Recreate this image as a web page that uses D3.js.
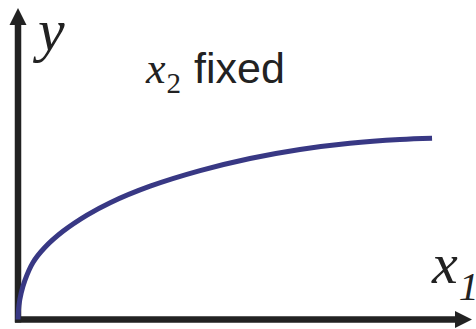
<!DOCTYPE html>
<html>
<head>
<meta charset="utf-8">
<script src="https://cdn.jsdelivr.net/npm/d3@7"></script>
<style>
  html, body { margin: 0; padding: 0; background: #fff; }
  svg { display: block; }
</style>
</head>
<body>
<svg id="container" width="476" height="329"></svg>
<script>
// curve (x1 on the horizontal, y on the vertical, arbitrary units)
const x1Values = [0, 0.02, 0.07, 0.15, 0.33, 0.59, 0.99, 1.52, 2.03, 2.91, 4.01, 5.11, 6.21, 7.31, 8.41, 9.12];
const yValues  = [0, 0.45, 0.85, 1.25, 1.83, 2.31, 2.83, 3.35, 3.75, 4.28, 4.78, 5.17, 5.46, 5.66, 5.78, 5.82];

const xDomain = [0, 10];
const yDomain = [0, 10];

const svg = d3.select('#container');

const xScale = d3.scaleLinear().domain(xDomain).range([18, 472]);
const yScale = d3.scaleLinear().domain(yDomain).range([319.5, 8]);

const axisColor = '#222';

// axes with arrow heads
const x0 = xScale(0), y0 = yScale(0);
const xEnd = xScale(xDomain[1]), yEnd = yScale(yDomain[1]);

svg.append('line')
    .attr('x1', x0).attr('y1', y0 + 3)
    .attr('x2', x0).attr('y2', yEnd + 14)
    .attr('stroke', axisColor).attr('stroke-width', 6.5);

svg.append('line')
    .attr('x1', x0 - 3).attr('y1', y0)
    .attr('x2', xEnd - 14).attr('y2', y0)
    .attr('stroke', axisColor).attr('stroke-width', 6.5);

svg.append('path')
    .attr('d', `M${x0},${yEnd} L${x0 + 8.5},${yEnd + 17} L${x0 - 8.5},${yEnd + 17} Z`)
    .attr('fill', axisColor);

svg.append('path')
    .attr('d', `M${xEnd},${y0} L${xEnd - 17},${y0 + 8.5} L${xEnd - 17},${y0 - 8.5} Z`)
    .attr('fill', axisColor);

// the curve
const data = x1Values.map((v, i) => [v, yValues[i]]);
const line = d3.line()
    .x(d => xScale(d[0]))
    .y(d => yScale(d[1]))
    .curve(d3.curveCatmullRom.alpha(0.5));

svg.append('path')
    .datum(data)
    .attr('d', line)
    .attr('fill', 'none')
    .attr('stroke', '#383884')
    .attr('stroke-width', 5);

// labels
const serif = '"Liberation Serif", "DejaVu Serif", serif';
const sans = '"Liberation Sans", Arial, sans-serif';

svg.append('text')
    .attr('x', 38).attr('y', 50)
    .attr('font-family', serif).attr('font-style', 'italic')
    .attr('font-size', 60).attr('fill', '#222')
    .text('y');

const t2 = svg.append('text')
    .attr('x', 146).attr('y', 83)
    .attr('fill', '#222');
t2.append('tspan').attr('font-family', serif).attr('font-style', 'italic').attr('font-size', 44).text('x');
t2.append('tspan').attr('font-family', serif).attr('font-size', 29).attr('dy', 10).attr('dx', 1).text('2');
t2.append('tspan').attr('font-family', sans).attr('font-size', 43).attr('dy', -10).attr('dx', 13).text('fixed');

const t1 = svg.append('text')
    .attr('x', 432).attr('y', 283)
    .attr('fill', '#222');
t1.append('tspan').attr('font-family', serif).attr('font-style', 'italic').attr('font-size', 58).text('x');
t1.append('tspan').attr('font-family', serif).attr('font-style', 'italic').attr('font-size', 40).attr('dy', 17).attr('dx', 1).text('1');
</script>
</body>
</html>
